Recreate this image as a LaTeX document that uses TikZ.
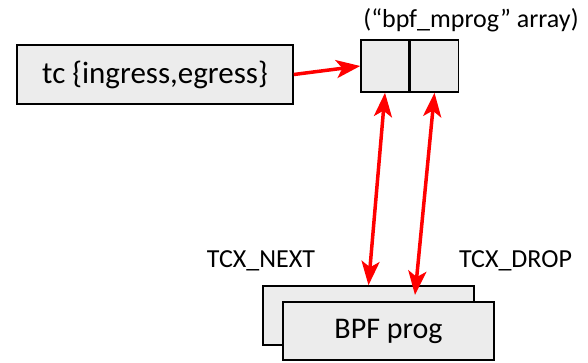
\documentclass[tikz,border=0pt]{standalone}
\usepackage{fontspec}
\setmainfont{Carlito}
\usetikzlibrary{arrows.meta, positioning, calc}
\tikzset{
  box/.style={rectangle, draw=black, fill=gray!15, line width=1.5pt,
              inner sep=0pt},
  cell/.style={box, minimum width=48pt, minimum height=52pt},
  prog/.style={box, minimum width=211pt, minimum height=58pt,
               font=\fontsize{30}{34}\selectfont},
  lbl/.style={inner sep=0pt, font=\fontsize{26}{30}\selectfont},
  link/.style={{Stealth[length=24pt, width=18pt, inset=6pt]}-{Stealth[length=24pt, width=18pt, inset=6pt]},
               red, line width=3.5pt}
}
\begin{document}
\begin{tikzpicture}[x=1pt, y=-1pt]
        \useasboundingbox (0,0) rectangle (588,362);
        % hook and the prog array
        \node[box, minimum width=276pt, minimum height=59pt,
              font=\fontsize{31}{35}\selectfont] (tc) at (155,74.5) {tc \{ingress,egress\}};
        \node[cell] (slotA) at (385,66) {};
        \node[cell, right=0pt of slotA] (slotB) {};
        \node[lbl] (arr) at (471,20) {(“bpf\_mprog” array)};
        % programs
        \node[box, minimum width=211pt, minimum height=59pt] (progB) at (368.5,315.5) {};
        \node[prog] (progA) at (388.5,331) {BPF prog};
        \node[lbl] (nxt) at (261,261) {TCX\_NEXT};
        \node[lbl] (drp) at (515.5,261) {TCX\_DROP};
        \coordinate (dropEnd) at (415,295);
        \draw[link, -{Stealth[length=24pt, width=18pt, inset=6pt]}] (tc.east) -- (slotA.west);
        \draw[link] (slotA.south) -- (progB.north);
        \draw[link] (slotB.south) -- (dropEnd);
      \end{tikzpicture}
\end{document}
